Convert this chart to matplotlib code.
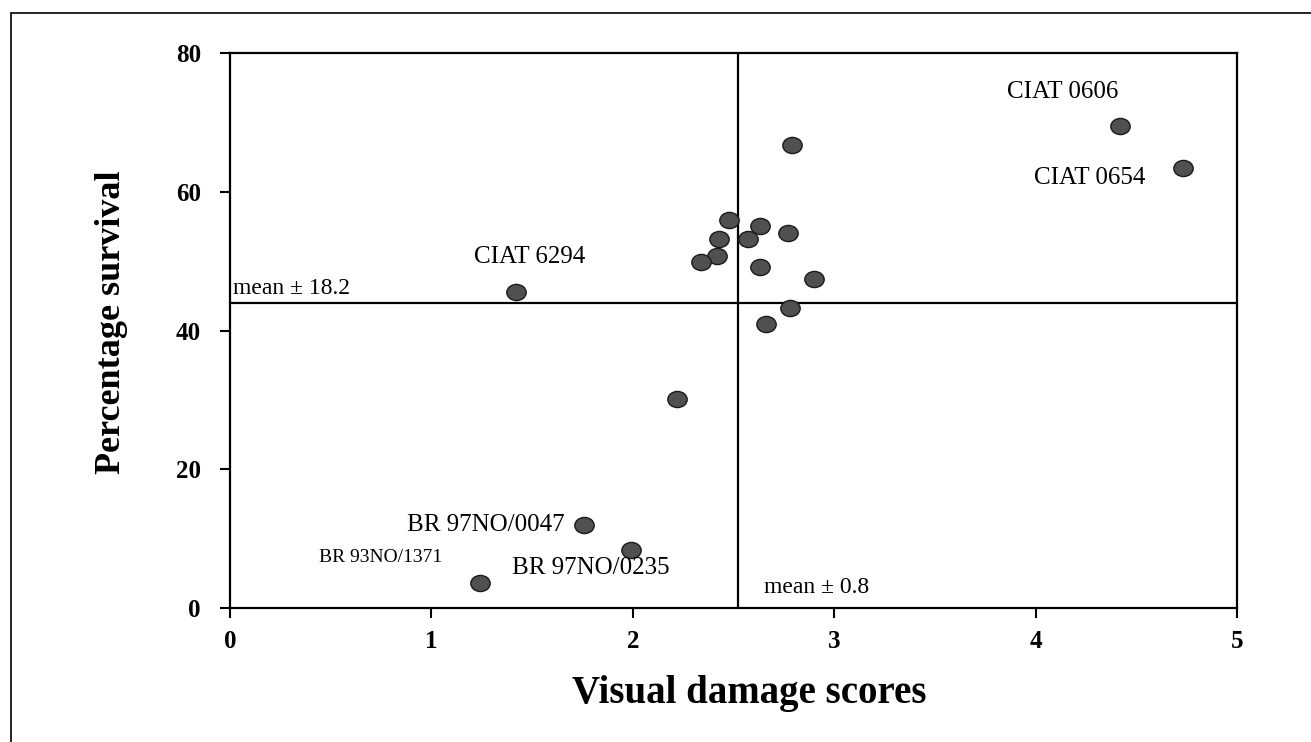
import matplotlib.pyplot as plt
import matplotlib.patches as mpatches
from matplotlib.markers import MarkerStyle
from matplotlib.transforms import Affine2D

# damage score vs survival, one point per accession
damage = [1.24, 1.76, 1.99, 2.22, 1.42,
          2.79, 2.48, 2.63, 2.77, 2.43, 2.57, 2.42, 2.34, 2.63, 2.90, 2.78, 2.66,
          4.42, 4.73]
survival = [3.6, 12.0, 8.4, 30.1, 45.5,
            66.7, 55.9, 55.0, 54.1, 53.2, 53.2, 50.8, 49.9, 49.1, 47.4, 43.2, 40.9,
            69.5, 63.4]

mean_damage = 2.52
mean_survival = 44.0

# labelled accessions: text, x, y, font size
labels = ['CIAT 0606', 'CIAT 0654', 'CIAT 6294', 'BR 97NO/0047', 'BR 93NO/1371', 'BR 97NO/0235']
label_x = [3.86, 3.99, 1.21, 0.88, 0.44, 1.40]
label_y = [74.4, 62.0, 50.6, 12.0, 7.3, 5.8]
label_size = [18, 18, 18, 18, 14, 18]

x_ticks = [0, 1, 2, 3, 4, 5]
y_ticks = [0, 20, 40, 60, 80]

plt.rcParams['font.family'] = ['Liberation Serif', 'DejaVu Serif']

fig = plt.figure(figsize=(13.11, 7.42), dpi=100)
ax = fig.add_axes([230 / 1311, 1 - 608 / 742, 1007 / 1311, 555 / 742])

# outer frame of the page (only top and left edges are in view)
fig.patches.append(mpatches.Rectangle((11 / 1311, -0.2), 1.2, 1.2 - 13 / 742,
                                      transform=fig.transFigure, fill=False,
                                      edgecolor='black', linewidth=1.2))

ax.axhline(mean_survival, color='black', linewidth=1.6, zorder=1)
ax.axvline(mean_damage, color='black', linewidth=1.6, zorder=1)

dot = MarkerStyle('o', transform=Affine2D().scale(1.2, 1.0))
ax.scatter(damage, survival, marker=dot, s=135, color='#505050',
           edgecolors='#1a1a1a', linewidths=1.0, zorder=3)

for text, x, y, size in zip(labels, label_x, label_y, label_size):
    ax.text(x, y, text, fontsize=size, ha='left', va='center')

ax.text(0.015, 46.0, 'mean \u00b1 18.2', fontsize=17, ha='left', va='center')
ax.text(2.65, 3.0, 'mean \u00b1 0.8', fontsize=17, ha='left', va='center')

ax.set_xlim(0, 5)
ax.set_ylim(0, 80)
ax.set_xticks(x_ticks)
ax.set_yticks(y_ticks)
ax.tick_params(direction='out', length=7, width=1.5, labelsize=18)
ax.tick_params(axis='x', pad=9)
ax.tick_params(axis='y', pad=14)
for lab in ax.get_xticklabels() + ax.get_yticklabels():
    lab.set_fontweight('bold')
for s in ax.spines.values():
    s.set_linewidth(1.6)

ax.set_xlabel('Visual damage scores', fontsize=28, fontweight='bold')
ax.set_ylabel('Percentage survival', fontsize=26, fontweight='bold')
ax.xaxis.set_label_coords(0.516, -0.121)
ax.yaxis.set_label_coords(-0.101, 0.515)

fig.savefig('out.png', dpi=100)
